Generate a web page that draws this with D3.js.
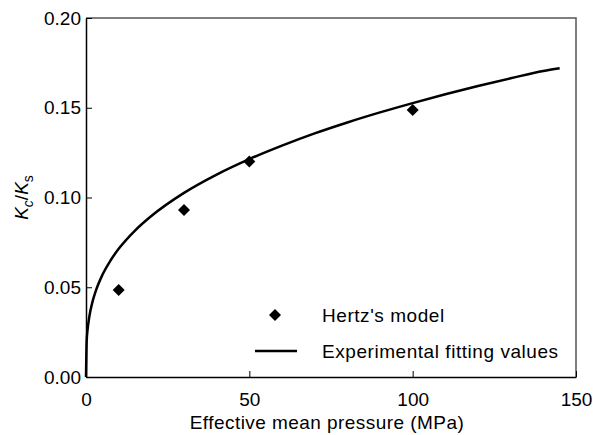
<!DOCTYPE html>
<html>
<head>
<meta charset="utf-8">
<script src="https://cdn.jsdelivr.net/npm/d3@7"></script>
<style>
  html, body { margin: 0; padding: 0; background: #fff; }
  svg { display: block; font-family: "Liberation Sans", Arial, sans-serif; }
</style>
</head>
<body>
<svg id="chart" width="593" height="435"></svg>
<script>
// Hertz's model points
const hertzX = [10, 30, 50, 100];
const hertzY = [0.0485, 0.093, 0.120, 0.1487];

// Experimental fitting curve
const fitX = [0, 0.2, 0.5, 1, 2, 3, 5, 7.5, 10, 15, 20, 30, 40, 50, 60, 70, 80, 90, 100, 110, 120, 130, 140, 145];
const fitY = [0, 0.0196, 0.0266, 0.0334, 0.0420, 0.0480, 0.0568, 0.0649, 0.0714, 0.0816, 0.0897, 0.1026, 0.1128, 0.1214, 0.1289, 0.1357, 0.1418, 0.1474, 0.1526, 0.1575, 0.1621, 0.1664, 0.1705, 0.1720];

const xTicks = [0, 50, 100, 150];
const yTicks = [0.00, 0.05, 0.10, 0.15, 0.20];
const legendLabels = ["Hertz's model", "Experimental fitting values"];
const xTitle = "Effective mean pressure (MPa)";

const svg = d3.select("#chart");
const L = 86, R = 576, T = 18, B = 377;
const x = d3.scaleLinear().domain([0, 150]).range([L, R]);
const y = d3.scaleLinear().domain([0, 0.20]).range([B, T]);
const FS = 19;

// frame (top/right gray)
svg.append("path")
  .attr("d", `M${L},${T}H${R}V${B}`)
  .attr("fill", "none").attr("stroke", "#555").attr("stroke-width", 1.5);

// x axis
const xAxis = d3.axisBottom(x).tickValues(xTicks).tickSizeInner(-6).tickSizeOuter(0).tickPadding(15.5).tickFormat(d3.format("d"));
const gx = svg.append("g").attr("transform", `translate(0,${B})`).call(xAxis);
gx.select(".domain").attr("stroke", "#000").attr("stroke-width", 1.5);
gx.selectAll(".tick line").attr("stroke", "#000").attr("stroke-width", 1);
gx.selectAll(".tick text").attr("font-size", FS).attr("font-family", "Liberation Sans, Arial, sans-serif").attr("fill", "#000");

// y axis
const yAxis = d3.axisLeft(y).tickValues(yTicks).tickSizeInner(-6).tickSizeOuter(0).tickPadding(5).tickFormat(d3.format(".2f"));
const gy = svg.append("g").attr("transform", `translate(${L},0)`).call(yAxis);
gy.select(".domain").attr("stroke", "#000").attr("stroke-width", 1.5);
gy.selectAll(".tick line").attr("stroke", "#000").attr("stroke-width", 1);
gy.selectAll(".tick text").attr("font-size", FS).attr("font-family", "Liberation Sans, Arial, sans-serif").attr("fill", "#000");

// x title
svg.append("text").attr("x", 327).attr("y", 429)
  .attr("text-anchor", "middle").attr("font-size", FS).attr("letter-spacing", 0.45).text(xTitle);

// y title
const yt = svg.append("text").attr("transform", `translate(28,${(T + B) / 2}) rotate(-90)`)
  .attr("text-anchor", "middle").attr("font-size", FS);
yt.append("tspan").attr("font-style", "italic").text("K");
yt.append("tspan").attr("font-style", "italic").attr("font-size", 14).attr("dy", 5).text("c");
yt.append("tspan").attr("dy", -5).text("/");
yt.append("tspan").attr("font-style", "italic").text("K");
yt.append("tspan").attr("font-size", 14).attr("dy", 5).text("s");

// curve
const fitData = fitX.map((d, i) => [d, fitY[i]]);
svg.append("path").datum(fitData)
  .attr("fill", "none").attr("stroke", "#000").attr("stroke-width", 2.5)
  .attr("d", d3.line().x(d => x(d[0])).y(d => y(d[1])).curve(d3.curveMonotoneX));

// diamonds
const diamond = d3.symbol().type(d3.symbolSquare).size(72);
svg.selectAll(".pt").data(hertzX.map((d, i) => [d, hertzY[i]])).join("path")
  .attr("class", "pt")
  .attr("d", diamond)
  .attr("transform", d => `translate(${x(d[0])},${y(d[1])}) rotate(45)`)
  .attr("fill", "#000");

// legend
svg.append("path").attr("d", diamond)
  .attr("transform", `translate(275,315) rotate(45)`).attr("fill", "#000");
svg.append("line").attr("x1", 255).attr("x2", 297).attr("y1", 351).attr("y2", 351)
  .attr("stroke", "#000").attr("stroke-width", 2.5);
svg.append("text").attr("x", 322).attr("y", 322).attr("font-size", FS).attr("letter-spacing", 0.55).text(legendLabels[0]);
svg.append("text").attr("x", 322).attr("y", 358).attr("font-size", FS).attr("letter-spacing", 0.55).text(legendLabels[1]);
</script>
</body>
</html>
